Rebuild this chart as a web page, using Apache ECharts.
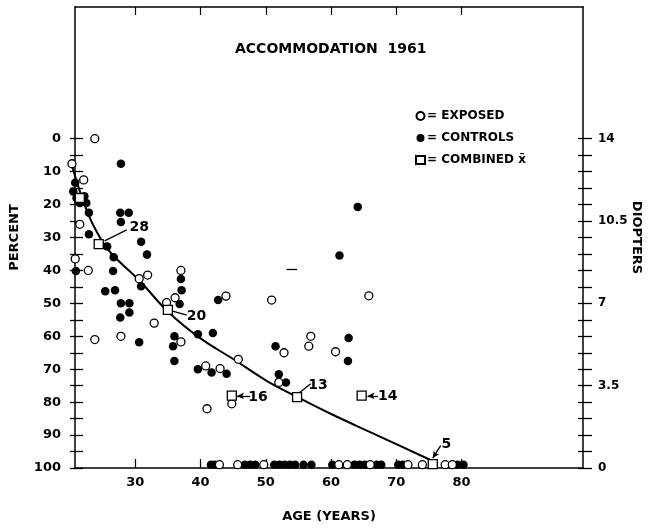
<!DOCTYPE html>
<html><head><meta charset="utf-8">
<script src="https://cdn.jsdelivr.net/npm/echarts@6/dist/echarts.min.js"></script>
<style>html,body{margin:0;padding:0;background:#fff}#c{width:651px;height:531px}</style>
</head><body><div id="c"></div>
<script>
// ---- data (age in years, accommodation loss in percent) ----
var exposedAge = [23.8,20.3,22.1,21.5,20.8,22.8,23.8,27.8,30.6,31.9,32.9,34.8,36.1,37,37,40.8,41,43,43.9,45.8,44.8,50.9,52,52.8,56.6,56.9,60.7,65.8,
                  42.9,45.7,49.7,61.2,62.5,66,71.8,74,77.5,78.6];
var exposedPct = [0,7.6,12.5,26,36.5,40,61,60,42.5,41.4,56,49.8,48.3,40,61.7,69,82,69.8,47.8,67,80.5,49,74,65,63,60,64.7,47.7,
                  99,99,99,99,99,99,99,99,99,99];
var controlAge = [27.8,20.8,21,21.5,22.2,22.5,20.5,22.9,27.7,29,27.8,22.9,25.7,30.9,31.8,26.7,20.9,26.6,25.4,26.9,30.9,27.8,29.1,29.1,27.7,30.6,
                  37,37.1,36.8,36,35.8,36,39.6,41.9,42.7,39.6,41.7,44,51.5,52,53.1,61.3,64.1,62.7,62.6,
                  41.6,42.2,46.8,47.6,48.4,51.3,52.1,52.9,53.7,54.5,55.8,57,60.2,63.6,64.4,65.2,67,67.7,70.3,71,79.4,80.3];
var controlPct = [7.6,13.4,18,19.5,17.5,19.5,16,22.5,22.5,22.5,25.3,29,32.7,31.3,35.2,36,40.2,40.2,46.3,46,44.8,50,50,52.8,54.3,61.8,
                  42.6,46,50.2,60,63,67.5,59.4,59,49,70,71,71.4,63,71.5,74,35.5,20.7,60.5,67.5,
                  99,99,99,99,99,99,99,99,99,99,99,99,99,99,99,99,99,99,99,99,99,99];
var combinedAge = [21.5,24.4,35,44.8,54.8,64.7,75.6];
var combinedPct = [18,32,52,78,78.5,78,98.8];
var curveAge = [20.2,22.6,24.7,26.4,30.7,34.9,39.9,45,50.2,54.8,59.7,67,75.5];
var curvePct = [7.5,22,30.4,35,43.2,52.3,60.5,66.9,73.6,78.4,83.3,90,97.8];
// annotation labels (n per combined mean)
var noteText = ['28','20','16','13','14','5'];
var noteAge  = [30.6,39.4,48.8,58.0,68.7,77.7];
var notePct  = [27.0,53.8,78.4,74.8,78.1,92.7];
// leader lines: from [age,pct] to [age,pct]
var leaderFrom = [[25.3,31],[35.6,52.3],[47.6,78.1],[55.1,77.2],[67.2,78.1],[76.8,93.2]];
var leaderTo   = [[28.7,27.7],[37.9,53.6],[45.6,78.1],[56.9,74.4],[65.6,78.1],[75.6,97.0]];
var leaderArrow= [false,false,true,false,true,true];
var leaderCurve= [0.25,0,0,-0.3,0,-0.35];
var dashAge = [53.2,54.8], dashPct = 39.5;
var pctTicks = [0,10,20,30,40,50,60,70,80,90,100];
var diopterLabels = ['0','3.5','7','10.5','14'];
var ageTicks = [30,40,50,60,70,80];

function zip(a,b){return a.map(function(v,i){return [v,b[i]];});}

var FONT = 'DejaVu Sans';
var txt = {color:'#000', fontFamily:FONT, fontWeight:'bold', fontSize:13};
var frameLine = {show:true,onZero:false,lineStyle:{color:'#000',width:1.5}};

var mlData = leaderFrom.map(function(f,i){
  return [{coord:f, symbol:'none', lineStyle:{curveness:leaderCurve[i]}},
          {coord:leaderTo[i], symbol:leaderArrow[i]?'arrow':'none', symbolSize:[5,7]}];
});
mlData.push([{coord:[dashAge[0],dashPct],symbol:'none'},{coord:[dashAge[1],dashPct],symbol:'none'}]);

var chart = echarts.init(document.getElementById('c'), null, {renderer:'canvas'});
var L=70, R=59, T=7, B=63, W=651-L-R, PX=W/80;
var zeroTop = T + 40*(531-T-B)/140;
chart.setOption({
  animation:false,
  backgroundColor:'#fff',
  title:{text:'ACCOMMODATION  1961', left:230, top:37,
         textStyle:{color:'#000',fontFamily:FONT,fontWeight:'bold',fontSize:14}},
  legend:{orient:'vertical', left:410, top:105, itemGap:10, itemWidth:9, itemHeight:8,
          data:['EXPOSED','CONTROLS','COMBINED'],
          formatter:function(n){return n==='COMBINED' ? '= COMBINED x\u0304' : '= '+n;},
          textStyle:{color:'#000',fontFamily:FONT,fontWeight:'bold',fontSize:12,padding:[0,0,0,-3]}},
  grid:[
    {left:L,right:R,top:T,bottom:B},
    {left:L,right:R,top:zeroTop,bottom:B},
    {left:L+10*PX,width:50*PX,top:T,bottom:B}
  ],
  xAxis:[
    {gridIndex:0,type:'value',min:20,max:100,position:'bottom',
     name:'AGE (YEARS)',nameLocation:'middle',nameGap:42,nameTextStyle:txt,
     axisLine:frameLine,axisTick:{show:false},axisLabel:{show:false},splitLine:{show:false}},
    {gridIndex:0,type:'value',min:20,max:100,position:'top',
     axisLine:frameLine,axisTick:{show:false},axisLabel:{show:false},splitLine:{show:false}},
    {gridIndex:1,type:'value',min:20,max:100,show:false},
    {gridIndex:2,type:'value',min:30,max:80,interval:10,position:'bottom',
     axisLine:{show:false,onZero:false},axisTick:{show:true,inside:true,length:9,lineStyle:{color:'#000',width:1.2}},
     axisLabel:{margin:8,color:'#000',fontFamily:FONT,fontWeight:'bold',fontSize:13,
       formatter:function(v){return ageTicks.indexOf(v)>=0?String(v):'';}},splitLine:{show:false}},
    {gridIndex:2,type:'value',min:30,max:80,interval:10,position:'top',
     axisLine:{show:false,onZero:false},axisTick:{show:true,inside:true,length:8,lineStyle:{color:'#000',width:1.2}},
     axisLabel:{show:false},splitLine:{show:false}}
  ],
  yAxis:[
    {gridIndex:0,type:'value',min:0,max:1,position:'left',
     name:'PERCENT',nameLocation:'middle',nameGap:54,nameRotate:90,nameTextStyle:txt,
     axisLine:frameLine,axisTick:{show:false},axisLabel:{show:false},splitLine:{show:false}},
    {gridIndex:0,type:'value',min:0,max:1,position:'right',
     name:'DIOPTERS',nameLocation:'middle',nameGap:47,nameRotate:-90,nameTextStyle:txt,
     axisLine:frameLine,axisTick:{show:false},axisLabel:{show:false},splitLine:{show:false}},
    {gridIndex:1,type:'value',min:0,max:100,interval:5,inverse:true,position:'left',
     axisLine:{show:false,onZero:false},axisTick:{show:true,inside:true,length:13,lineStyle:{color:'#000',width:1.3}},
     axisLabel:{margin:9,color:'#000',fontFamily:FONT,fontWeight:'bold',fontSize:13,
       formatter:function(v){return pctTicks.indexOf(v)>=0?String(v):'';}},splitLine:{show:false}},
    {gridIndex:1,type:'value',min:0,max:14,interval:0.7,position:'right',
     axisLine:{show:false,onZero:false},axisTick:{show:true,inside:true,length:14,lineStyle:{color:'#000',width:1.3}},
     axisLabel:{margin:6,color:'#000',fontFamily:FONT,fontWeight:'bold',fontSize:12,
       formatter:function(v){var k=Math.round(v/0.7); if(k%5!==0) return ''; return diopterLabels[k/5];}},splitLine:{show:false}},
    {gridIndex:2,type:'value',show:false}
  ],
  series:[
    {name:'FIT',type:'line',xAxisIndex:2,yAxisIndex:2,data:zip(curveAge,curvePct),smooth:0.4,
     symbol:'none',lineStyle:{color:'#000',width:2},z:2,
     markLine:{silent:true,animation:false,symbol:['none','none'],label:{show:false},
       lineStyle:{color:'#000',type:'solid',width:1.3},data:mlData},
     markPoint:{silent:true,symbol:'circle',symbolSize:1,itemStyle:{color:'rgba(0,0,0,0)'},
       label:{show:true,position:'inside',color:'#000',fontFamily:FONT,fontWeight:'bold',fontSize:14,formatter:function(p){return p.name;}},
       data:noteText.map(function(t,i){return {name:t,coord:[noteAge[i],notePct[i]]};})}},
    {name:'CONTROLS',type:'scatter',xAxisIndex:2,yAxisIndex:2,data:zip(controlAge,controlPct),
     symbol:'circle',symbolSize:8.5,itemStyle:{color:'#000',opacity:1},z:3},
    {name:'EXPOSED',type:'scatter',xAxisIndex:2,yAxisIndex:2,data:zip(exposedAge,exposedPct),
     symbol:'circle',symbolSize:8,itemStyle:{color:'#fff',borderColor:'#000',borderWidth:1.3,opacity:1},z:4},
    {name:'COMBINED',type:'scatter',xAxisIndex:2,yAxisIndex:2,data:zip(combinedAge,combinedPct),
     symbol:'rect',symbolSize:9,itemStyle:{color:'#fff',borderColor:'#000',borderWidth:1.3,opacity:1},z:5}
  ]
});
</script></body></html>
